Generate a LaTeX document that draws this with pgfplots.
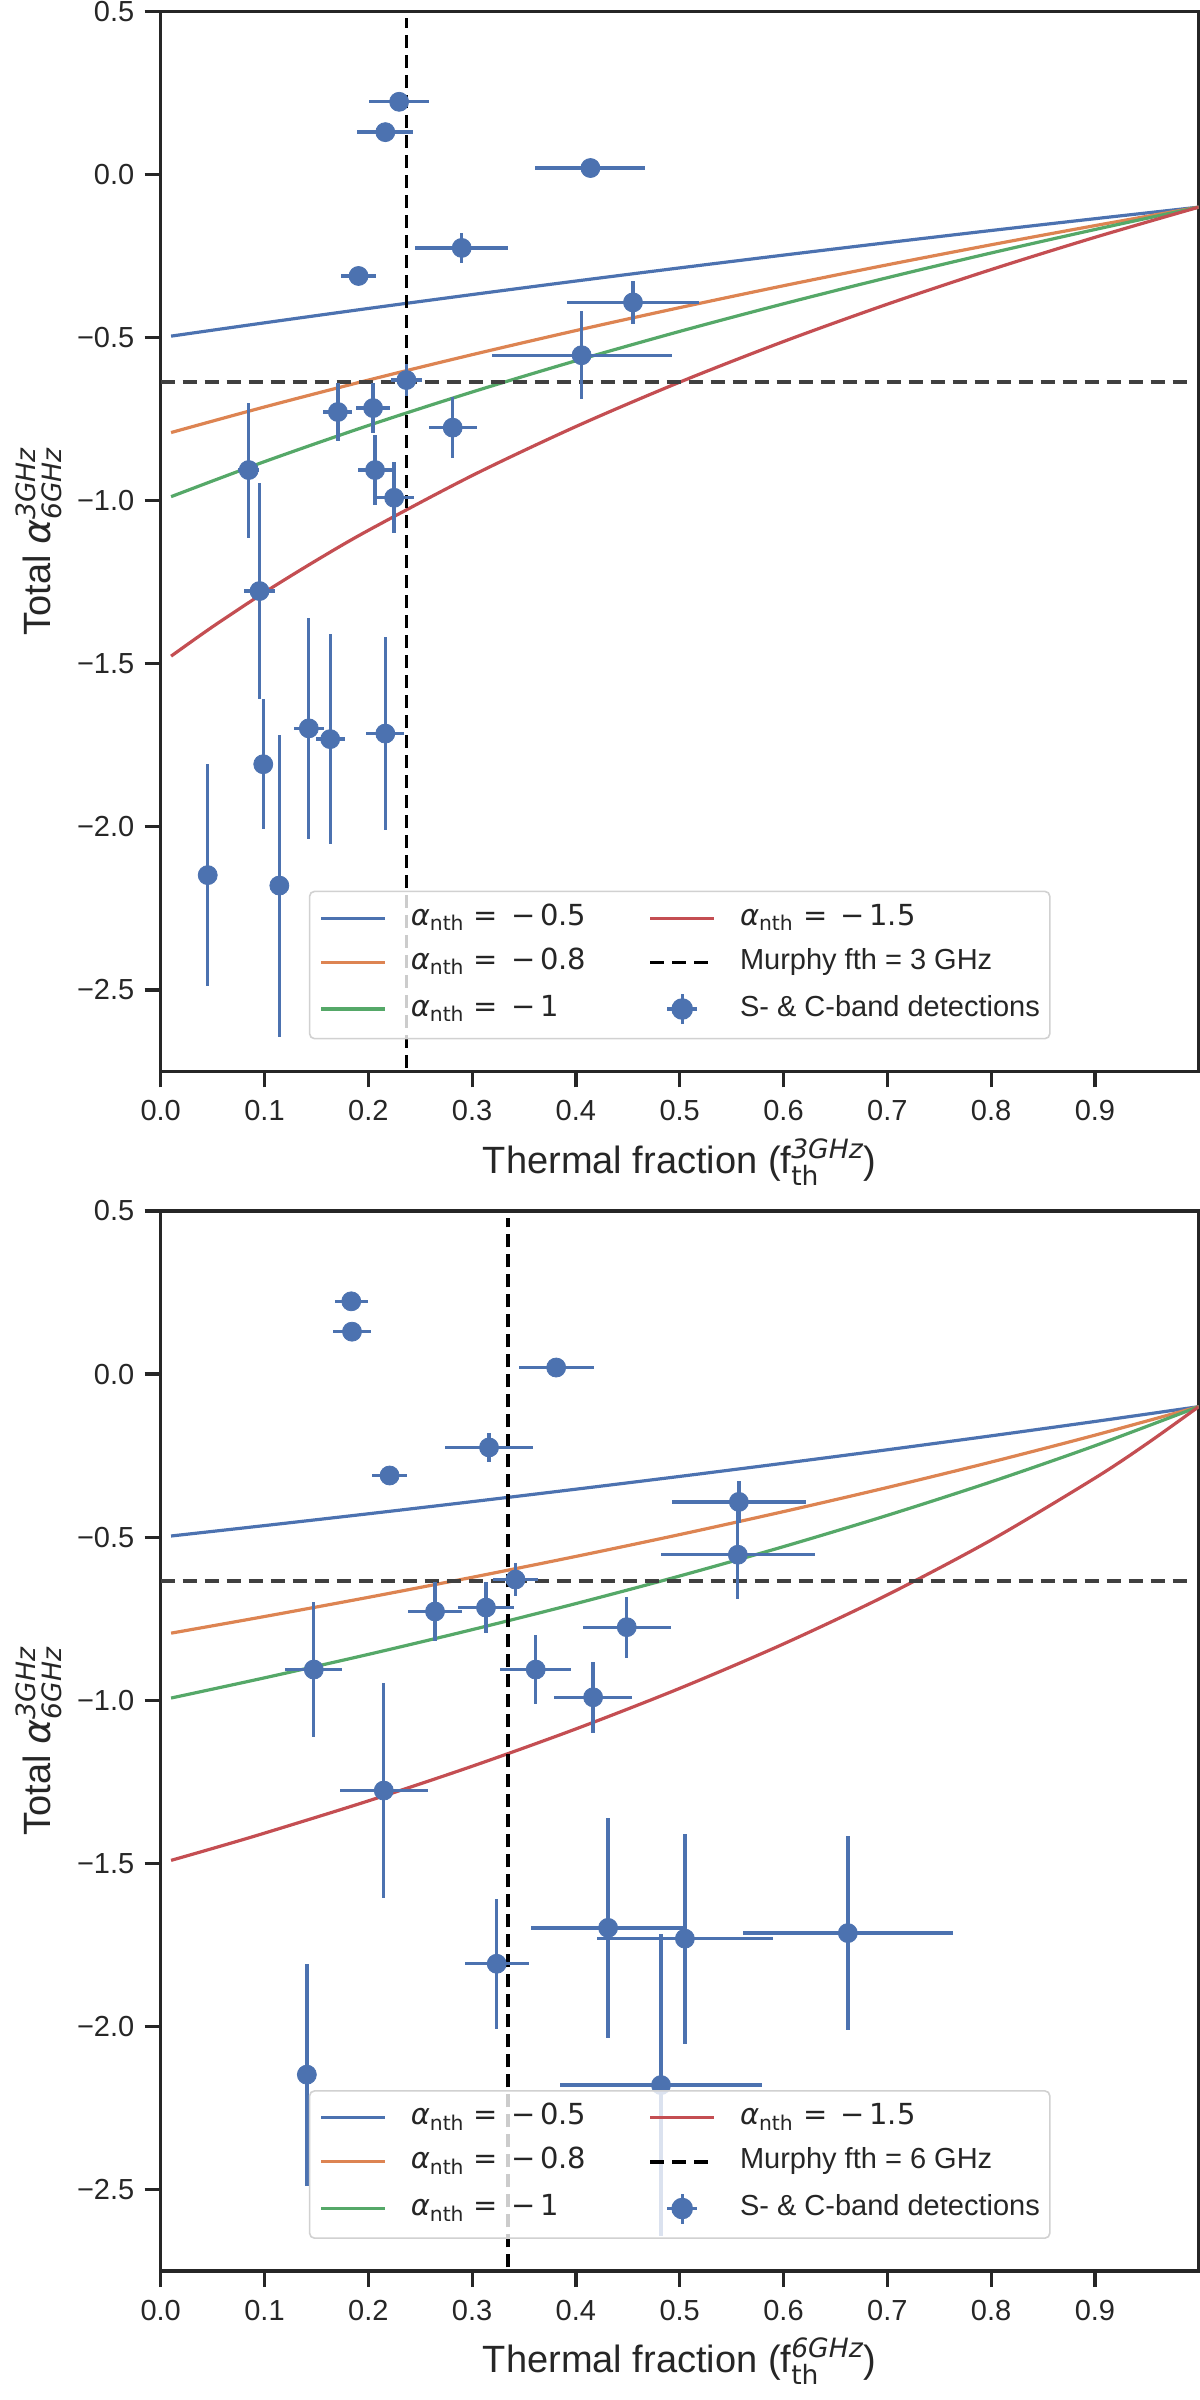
\documentclass[border=0pt]{standalone}
\usepackage{fontspec}
\setmainfont{Liberation Sans}
\newfontfamily\dv{DejaVu Sans}
\usepackage{amsmath}
\usepackage{pgfplots}
\usepackage{pgfplotstable}
\pgfplotsset{compat=1.18}

\definecolor{sbblue}{HTML}{4C72B0}
\definecolor{sborange}{HTML}{DD8452}
\definecolor{sbgreen}{HTML}{55A868}
\definecolor{sbred}{HTML}{C44E52}
\definecolor{spine}{HTML}{262626}

\newcommand{\tickfont}{\fontsize{14.5bp}{17bp}\selectfont}
\newcommand{\labelfont}{\fontsize{19bp}{23bp}\selectfont}
\newcommand{\anth}[1]{{\dv\itshape α}\ensuremath{_{\text{\dv nth}}}{\dv\ =\hspace{0.45em}#1}}

% x  ex  y  ey   (top panel: thermal fraction at 3 GHz)
\pgfplotstableread{
x ex y ey
0.2297 0.0286 0.223 0.0
0.2164 0.0270 0.130 0.0
0.4140 0.0530 0.020 0.0
0.2900 0.0448 -0.225 0.045
0.1906 0.0168 -0.311 0.025
0.4550 0.0634 -0.392 0.065
0.4055 0.0866 -0.554 0.135
0.2367 0.0147 -0.630 0.050
0.1707 0.0140 -0.728 0.089
0.2046 0.0160 -0.716 0.077
0.2813 0.0230 -0.776 0.094
0.2065 0.0160 -0.906 0.106
0.2249 0.0190 -0.991 0.109
0.0848 0.0100 -0.906 0.207
0.0952 0.0150 -1.277 0.330
0.0988 0.0030 -1.808 0.200
0.0453 0.0030 -2.148 0.340
0.1143 0.0030 -2.180 0.463
0.1427 0.0146 -1.698 0.338
0.1633 0.0138 -1.731 0.322
0.2164 0.0184 -1.714 0.297
}\topdata

% bottom panel: thermal fraction at 6 GHz
\pgfplotstableread{
x ex y ey
0.1836 0.0160 0.223 0.0
0.1843 0.0180 0.130 0.0
0.3810 0.0360 0.020 0.0
0.3163 0.0420 -0.225 0.045
0.2205 0.0170 -0.311 0.025
0.5570 0.0645 -0.392 0.065
0.5560 0.0740 -0.554 0.135
0.3418 0.0218 -0.630 0.050
0.2643 0.0258 -0.728 0.089
0.3134 0.0270 -0.716 0.077
0.4490 0.0424 -0.776 0.094
0.3613 0.0340 -0.906 0.106
0.4166 0.0378 -0.991 0.109
0.1475 0.0273 -0.906 0.207
0.2149 0.0426 -1.277 0.330
0.3237 0.0310 -1.808 0.200
0.1408 0.0030 -2.148 0.340
0.4820 0.0970 -2.180 0.463
0.4310 0.0740 -1.698 0.338
0.5050 0.0850 -1.731 0.322
0.6620 0.1010 -1.714 0.297
}\botdata

\pgfplotsset{
  panel/.style={
    scale only axis, width=519bp, height=530bp,
    xmin=0, xmax=1, ymin=-2.75, ymax=0.5,
    xtick={0,0.1,0.2,0.3,0.4,0.5,0.6,0.7,0.8,0.9},
    xticklabels={0.0,0.1,0.2,0.3,0.4,0.5,0.6,0.7,0.8,0.9},
    ytick={-2.5,-2,-1.5,-1,-0.5,0,0.5},
    yticklabels={−2.5,−2.0,−1.5,−1.0,−0.5,0.0,0.5},
    tick align=outside, tick pos=left,
    major tick length=8bp,
    tick style={line width=1.6bp, color=spine},
    axis line style={line width=1.6bp, color=spine},
    ticklabel style={font=\tickfont, text=spine},
    xticklabel style={inner sep=0pt, yshift=-6.3bp},
    yticklabel style={inner sep=0pt, xshift=-5bp},
    label style={font=\labelfont, text=spine},
    xlabel style={at={(axis description cs:0.5,-0.0958)}, anchor=base},
    ylabel style={at={(axis description cs:-0.1066,0.5)}, anchor=base},
    legend columns=2, legend cell align=left,
    legend image code/.code={\draw[##1] (0bp,0bp) -- (32bp,0bp);},
    legend style={at={(axis description cs:0.5,0.0302)}, anchor=south,
      font=\tickfont, text=spine, draw=black!18, line width=0.8bp,
      rounded corners=2.5bp, fill=white, fill opacity=0.8, text opacity=1,
      draw opacity=1, inner xsep=5bp, inner ysep=6.5bp, row sep=8bp,
      nodes={inner sep=0pt, text height=10.5bp, text depth=3.5bp},
      /tikz/every odd column/.append style={column sep=12bp},
      /tikz/every even column/.append style={column sep=31bp}},
  },
  curve/.style={forget plot, line width=1.6bp, smooth},
  pts/.style={forget plot, only marks, mark=*, mark size=4.75bp, color=sbblue,
    mark options={fill=sbblue, draw=sbblue, line width=0.4bp},
    error bars/.cd, x dir=both, x explicit, y dir=both, y explicit,
    error mark=none, error bar style={line width=1.65bp, sbblue}},
  vdash/.style={forget plot, black, line width=1.8bp, dash pattern=on 6.5bp off 3.5bp},
  hdash/.style={forget plot, black!75, line width=1.9bp, dash pattern=on 7bp off 4bp},
  markerlegend/.style={legend image code/.code={
      \draw[sbblue, line width=1.65bp] (8.5bp,0bp) -- (23.5bp,0bp) (16bp,-7.5bp) -- (16bp,7.5bp);
      \fill[sbblue, fill opacity=1] (16bp,0bp) circle (5bp);}},
}

\begin{document}
\begin{tikzpicture}
\useasboundingbox (0,0) rectangle (600bp,1200bp);

% ---------------- top panel ----------------
\begin{axis}[panel, at={(80.35bp,664.25bp)}, anchor=south west,
  xlabel={Thermal fraction (f$_{\text{\dv th}}^{\text{\dv\itshape 3GHz}}$)},
  ylabel={Total $\text{\dv\itshape α}^{\text{\dv\itshape 3GHz}}_{\text{\dv\itshape 6GHz}}$}]
\addplot[curve, sbblue] coordinates {(0.01,-0.4954) (0.1,-0.4546) (0.2,-0.4106) (0.3,-0.3680) (0.4,-0.3265) (0.5,-0.2862) (0.6,-0.2470) (0.7,-0.2088) (0.8,-0.1716) (0.9,-0.1354) (1.0,-0.1000)};
\addplot[curve, sborange] coordinates {(0.01,-0.7910) (0.1,-0.7126) (0.2,-0.6302) (0.3,-0.5523) (0.4,-0.4783) (0.5,-0.4080) (0.6,-0.3409) (0.7,-0.2768) (0.8,-0.2154) (0.9,-0.1566) (1.0,-0.1000)};
\addplot[curve, sbgreen] coordinates {(0.01,-0.9876) (0.1,-0.8802) (0.2,-0.7695) (0.3,-0.6668) (0.4,-0.5709) (0.5,-0.4809) (0.6,-0.3963) (0.7,-0.3163) (0.8,-0.2405) (0.9,-0.1686) (1.0,-0.1000)};
\addplot[curve, sbred] coordinates {(0.01,-1.4766) (0.05,-1.3864) (0.1,-1.2810) (0.15,-1.1829) (0.2,-1.0910) (0.3,-0.9230) (0.4,-0.7726) (0.5,-0.6365) (0.6,-0.5120) (0.7,-0.3975) (0.8,-0.2914) (0.9,-0.1925) (1.0,-0.1000)};
\addplot[hdash] coordinates {(0,-0.635) (0.99,-0.635)};
\addplot[vdash] coordinates {(0.2367,-2.8) (0.2367,0.479)};
\addplot[pts] table[x=x, y=y, x error=ex, y error=ey] {\topdata};
\addlegendimage{sbblue, line width=1.6bp}
\addlegendentry{\anth{−\,0.5}}
\addlegendimage{sbred, line width=1.6bp}
\addlegendentry{\anth{−\,1.5}}
\addlegendimage{sborange, line width=1.6bp}
\addlegendentry{\anth{−\,0.8}}
\addlegendimage{black, line width=1.8bp, dash pattern=on 7bp off 4bp}
\addlegendentry{Murphy fth = 3 GHz}
\addlegendimage{sbgreen, line width=1.6bp}
\addlegendentry{\anth{−\,1}}
\addlegendimage{markerlegend}
\addlegendentry{S- \& C-band detections}
\end{axis}

% ---------------- bottom panel ----------------
\begin{axis}[panel, at={(80.35bp,64.5bp)}, anchor=south west,
  xlabel={Thermal fraction (f$_{\text{\dv th}}^{\text{\dv\itshape 6GHz}}$)},
  ylabel={Total $\text{\dv\itshape α}^{\text{\dv\itshape 3GHz}}_{\text{\dv\itshape 6GHz}}$}]
\addplot[curve, sbblue] coordinates {(0.01,-0.4965) (0.1,-0.4646) (0.2,-0.4284) (0.3,-0.3912) (0.4,-0.3530) (0.5,-0.3138) (0.6,-0.2735) (0.7,-0.2321) (0.8,-0.1894) (0.9,-0.1454) (1.0,-0.1000)};
\addplot[curve, sborange] coordinates {(0.01,-0.7944) (0.1,-0.7434) (0.2,-0.6846) (0.3,-0.6232) (0.4,-0.5591) (0.5,-0.4921) (0.6,-0.4217) (0.7,-0.3478) (0.8,-0.2698) (0.9,-0.1874) (1.0,-0.1000)};
\addplot[curve, sbgreen] coordinates {(0.01,-0.9933) (0.1,-0.9314) (0.2,-0.8595) (0.3,-0.7837) (0.4,-0.7037) (0.5,-0.6191) (0.6,-0.5291) (0.7,-0.4332) (0.8,-0.3305) (0.9,-0.2198) (1.0,-0.1000)};
\addplot[curve, sbred] coordinates {(0.01,-1.4910) (0.05,-1.4545) (0.1,-1.4075) (0.2,-1.3087) (0.3,-1.2025) (0.4,-1.0880) (0.5,-0.9636) (0.6,-0.8274) (0.7,-0.6770) (0.8,-0.5090) (0.9,-0.3190) (0.95,-0.2136) (1.0,-0.1000)};
\addplot[hdash] coordinates {(0,-0.635) (0.99,-0.635)};
\addplot[vdash] coordinates {(0.3347,-2.8) (0.3347,0.479)};
\addplot[pts] table[x=x, y=y, x error=ex, y error=ey] {\botdata};
\addlegendimage{sbblue, line width=1.6bp}
\addlegendentry{\anth{−\,0.5}}
\addlegendimage{sbred, line width=1.6bp}
\addlegendentry{\anth{−\,1.5}}
\addlegendimage{sborange, line width=1.6bp}
\addlegendentry{\anth{−\,0.8}}
\addlegendimage{black, line width=1.8bp, dash pattern=on 7bp off 4bp}
\addlegendentry{Murphy fth = 6 GHz}
\addlegendimage{sbgreen, line width=1.6bp}
\addlegendentry{\anth{−\,1}}
\addlegendimage{markerlegend}
\addlegendentry{S- \& C-band detections}
\end{axis}
\end{tikzpicture}
\end{document}
